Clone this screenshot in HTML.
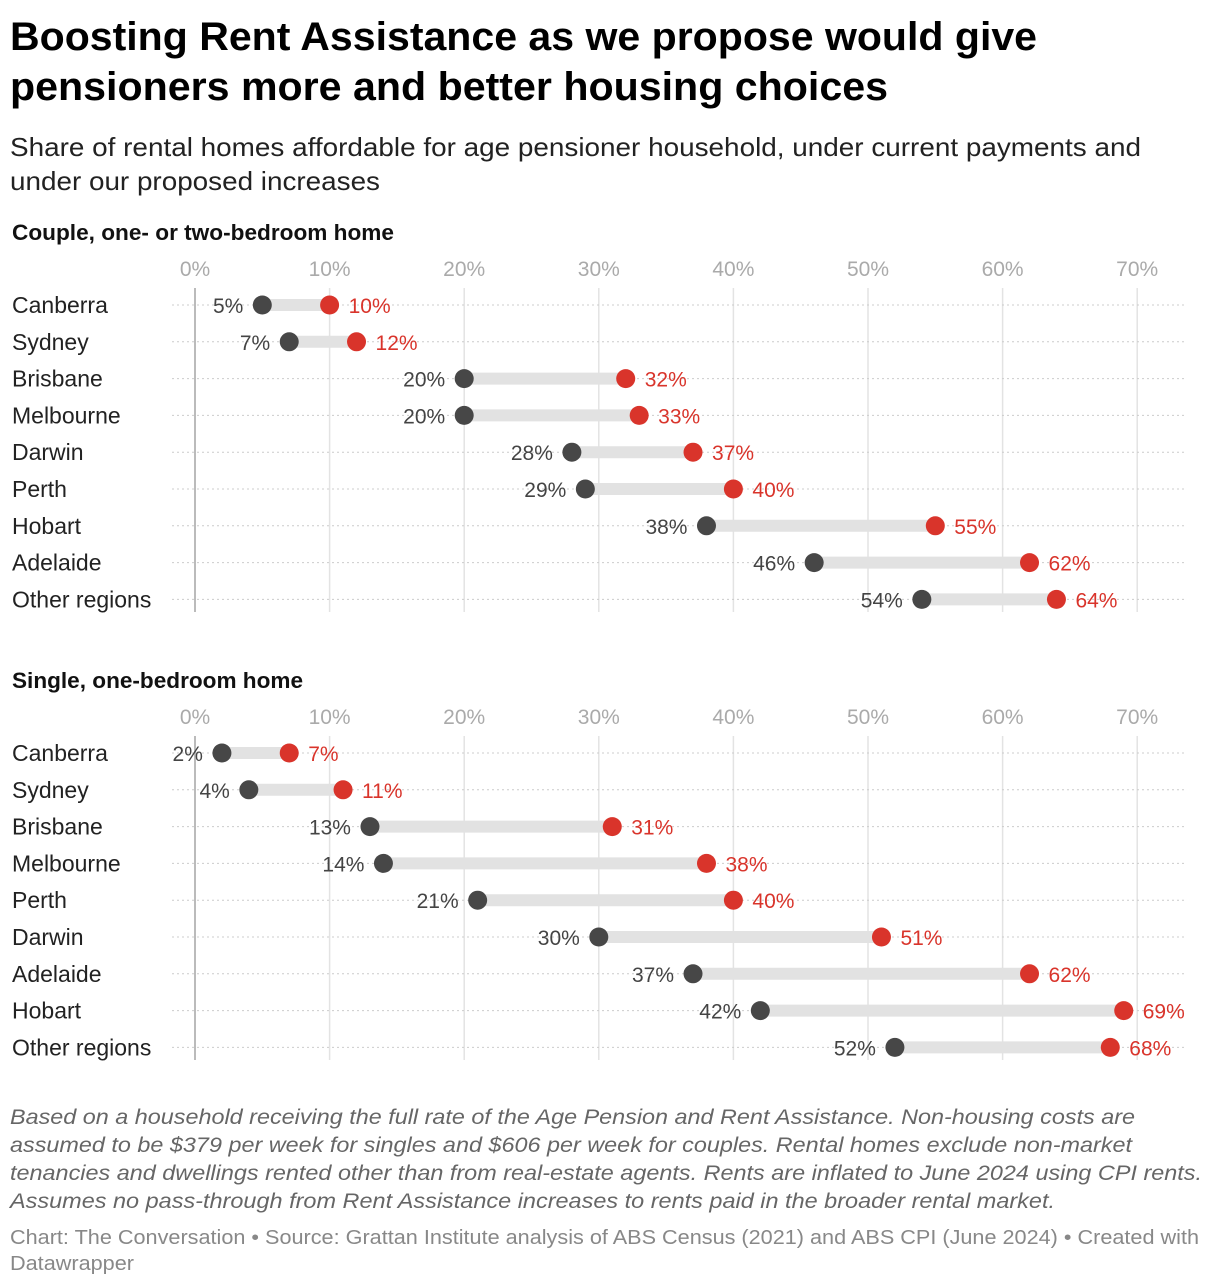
<!DOCTYPE html>
<html><head><meta charset="utf-8"><style>
html,body{margin:0;padding:0;background:#fff;}
svg{display:block;font-family:"Liberation Sans",sans-serif;}
</style></head><body>
<svg id="chart" width="1220" height="1288" viewBox="0 0 1220 1288">
<g font-weight="bold" font-size="40" fill="#000">
<text x="10" y="50" textLength="1027" lengthAdjust="spacingAndGlyphs">Boosting Rent Assistance as we propose would give</text>
<text x="10" y="100" textLength="878" lengthAdjust="spacingAndGlyphs">pensioners more and better housing choices</text>
</g>
<g font-size="26" fill="#222">
<text x="10" y="156" textLength="1131" lengthAdjust="spacingAndGlyphs">Share of rental homes affordable for age pensioner household, under current payments and</text>
<text x="10" y="190" textLength="370" lengthAdjust="spacingAndGlyphs">under our proposed increases</text>
</g>
<g id="panels"></g>
<g font-size="21" font-style="italic" fill="#666">
<text x="10" y="1124" textLength="1125" lengthAdjust="spacingAndGlyphs">Based on a household receiving the full rate of the Age Pension and Rent Assistance. Non-housing costs are</text>
<text x="10" y="1152" textLength="1122" lengthAdjust="spacingAndGlyphs">assumed to be $379 per week for singles and $606 per week for couples. Rental homes exclude non-market</text>
<text x="10" y="1180" textLength="1192" lengthAdjust="spacingAndGlyphs">tenancies and dwellings rented other than from real-estate agents. Rents are inflated to June 2024 using CPI rents.</text>
<text x="10" y="1208" textLength="1045" lengthAdjust="spacingAndGlyphs">Assumes no pass-through from Rent Assistance increases to rents paid in the broader rental market.</text>
</g>
<g font-size="20" fill="#888">
<text x="10" y="1244" textLength="1189" lengthAdjust="spacingAndGlyphs">Chart: The Conversation • Source: Grattan Institute analysis of ABS Census (2021) and ABS CPI (June 2024) • Created with</text>
<text x="10" y="1270" textLength="124" lengthAdjust="spacingAndGlyphs">Datawrapper</text>
</g>
</svg>
<script>
const ticks = [0,10,20,30,40,50,60,70];
const coupleCities = ["Canberra","Sydney","Brisbane","Melbourne","Darwin","Perth","Hobart","Adelaide","Other regions"];
const coupleCurrent = [5,7,20,20,28,29,38,46,54];
const coupleProposed = [10,12,32,33,37,40,55,62,64];
const singleCities = ["Canberra","Sydney","Brisbane","Melbourne","Perth","Darwin","Adelaide","Hobart","Other regions"];
const singleCurrent = [2,4,13,14,21,30,37,42,52];
const singleProposed = [7,11,31,38,40,51,62,69,68];

const NS="http://www.w3.org/2000/svg";
const x = v => 195 + v*13.46;
function mk(parent, tag, attrs, txt){
  const e=document.createElementNS(NS,tag);
  for(const k in attrs) e.setAttribute(k,attrs[k]);
  if(txt!==undefined) e.textContent=txt;
  parent.appendChild(e); return e;
}
function panel(top, heading, headW, cities, cur, prop, key){
  const root=document.getElementById('panels');
  const g=mk(root,'g',{});
  
  
  const h=mk(g,'text',{x:12,y:top+8,'font-size':22,'font-weight':'bold',fill:'#111',textLength:headW,lengthAdjust:'spacingAndGlyphs'},heading);
  
  
  const rowY = i => top+73+i*36.8;
  ticks.forEach(t=>{
    const l=mk(g,'line',{x1:x(t),x2:x(t),y1:top+56,y2:top+380,stroke:t===0?'#bbb':'#e3e3e3','stroke-width':t===0?2:1.5});
    
    
    const tl=mk(g,'text',{x:x(t),y:top+44,'font-size':21,fill:'#aaa','text-anchor':'middle'},t+'%');
    
    
  });
  cities.forEach((c,i)=>{
    const y=rowY(i);
    const dl=mk(g,'line',{x1:172,x2:1187,y1:y,y2:y,stroke:'#ccc','stroke-width':1,'stroke-dasharray':'2,3'});
    
    
    const cl=mk(g,'text',{x:12,y:y+8,'font-size':23,fill:'#222'},c);
    
    
    const bar=mk(g,'line',{x1:x(cur[i]),x2:x(prop[i]),y1:y,y2:y,stroke:'#e2e2e2','stroke-width':12});
    
    
    const d1=mk(g,'circle',{cx:x(cur[i]),cy:y,r:9.5,fill:'#474747'});
    
    
    const d2=mk(g,'circle',{cx:x(prop[i]),cy:y,r:9.5,fill:'#d9342b'});
    
    
    const v1=mk(g,'text',{x:x(cur[i])-19,y:y+8,'font-size':21,fill:'#444','text-anchor':'end'},cur[i]+'%');
    
    
    const v2=mk(g,'text',{x:x(prop[i])+19,y:y+8,'font-size':21,fill:'#d9342b'},prop[i]+'%');
    
    
  });
}
panel(232,"Couple, one- or two-bedroom home",382,coupleCities,coupleCurrent,coupleProposed,'couple');
panel(680,"Single, one-bedroom home",291,singleCities,singleCurrent,singleProposed,'single');
</script>
</body></html>
